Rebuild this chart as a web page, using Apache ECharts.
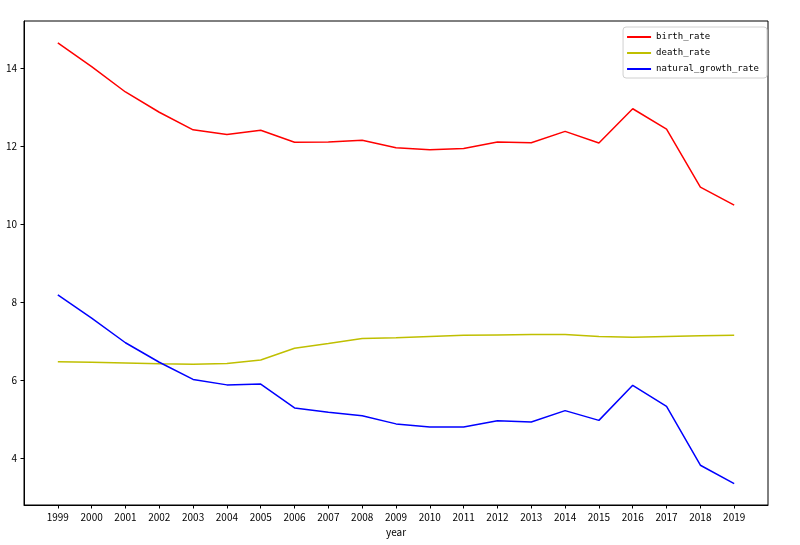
<!DOCTYPE html>
<html><head><meta charset="utf-8">
<script src="https://cdn.jsdelivr.net/npm/echarts@6/dist/echarts.min.js"></script>
<style>html,body{margin:0;padding:0;background:#fff}#c{width:800px;height:545px}</style>
</head><body><div id="c"></div>
<script>
const years = [1999,2000,2001,2002,2003,2004,2005,2006,2007,2008,2009,2010,2011,2012,2013,2014,2015,2016,2017,2018,2019];
const birthRate = [14.64,14.03,13.38,12.86,12.41,12.29,12.40,12.09,12.10,12.14,11.95,11.90,11.93,12.10,12.08,12.37,12.07,12.95,12.43,10.94,10.48];
const deathRate = [6.46,6.45,6.43,6.41,6.40,6.42,6.51,6.81,6.93,7.06,7.08,7.11,7.14,7.15,7.16,7.16,7.11,7.09,7.11,7.13,7.14];
const naturalGrowthRate = [8.18,7.58,6.95,6.45,6.01,5.87,5.89,5.28,5.17,5.08,4.87,4.79,4.79,4.95,4.92,5.21,4.96,5.86,5.32,3.81,3.34];
const yTicks = [4,6,8,10,12,14];

const pairs = arr => years.map((y,i)=>[y,arr[i]]);
const tickFont = {fontFamily:'Noto Sans CJK SC', fontSize:10, color:'#000'};
const mk = (name, arr, color) => ({
  name, type:'line', data:pairs(arr), showSymbol:false, symbol:'none',
  lineStyle:{color, width:1.5}, itemStyle:{color}, animation:false
});
const chart = echarts.init(document.getElementById('c'), null, {renderer:'canvas'});
chart.setOption({
  animation:false,
  backgroundColor:'#fff',
  grid:{left:24, right:32, top:21, bottom:40, show:true, borderColor:'#000', borderWidth:1, containLabel:false},
  legend:{
    right:33, top:27, orient:'vertical', icon:'rect', itemWidth:24, itemHeight:2, itemGap:4,
    borderColor:'#d0d0d0', borderWidth:1, borderRadius:3, padding:[4,8,3,4],
    textStyle:{fontFamily:'DejaVu Sans Mono', fontSize:9, color:'#000', lineHeight:12}
  },
  xAxis:{
    type:'value', min:1998, max:2020, name:'year', nameLocation:'middle', nameGap:18,
    nameTextStyle:tickFont,
    axisLine:{show:true, lineStyle:{color:'#000'}},
    axisTick:{show:true, length:3.5, customValues:years, lineStyle:{color:'#000'}},
    axisLabel:Object.assign({customValues:years, margin:7, formatter:v=>String(v)}, tickFont),
    splitLine:{show:false}
  },
  yAxis:{
    type:'value', min:2.79, max:15.2,
    axisLine:{show:true, lineStyle:{color:'#000'}},
    axisTick:{show:true, length:3.5, customValues:yTicks, lineStyle:{color:'#000'}},
    axisLabel:Object.assign({customValues:yTicks, margin:7, formatter:v=>String(v)}, tickFont),
    splitLine:{show:false}
  },
  series:[
    mk('birth_rate', birthRate, '#ff0000'),
    mk('death_rate', deathRate, '#bfbf00'),
    mk('natural_growth_rate', naturalGrowthRate, '#0000ff')
  ]
});
</script></body></html>
